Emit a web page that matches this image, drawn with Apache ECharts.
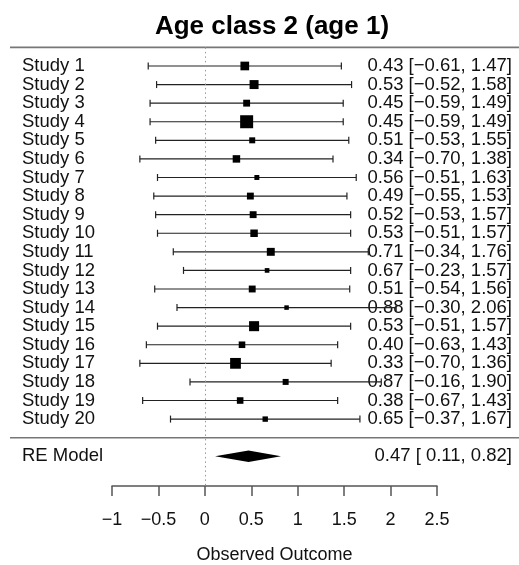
<!DOCTYPE html>
<html>
<head>
<meta charset="utf-8">
<title>Age class 2 (age 1)</title>
<script src="https://cdn.jsdelivr.net/npm/echarts@6/dist/echarts.min.js"></script>
</head>
<body style="margin:0;background:#fff">
<div id="main" style="width:519px;height:565px;"></div>
<script>
// studies, effect sizes, 95% CI, relative weights (%)
var studies = ['Study 1', 'Study 2', 'Study 3', 'Study 4', 'Study 5', 'Study 6', 'Study 7', 'Study 8', 'Study 9', 'Study 10',
    'Study 11', 'Study 12', 'Study 13', 'Study 14', 'Study 15', 'Study 16', 'Study 17', 'Study 18', 'Study 19', 'Study 20'];
var estimates = [0.43, 0.53, 0.45, 0.45, 0.51, 0.34, 0.56, 0.49, 0.52, 0.53, 0.71, 0.67, 0.51, 0.88, 0.53, 0.40, 0.33, 0.87, 0.38, 0.65];
var lower = [-0.61, -0.52, -0.59, -0.59, -0.53, -0.70, -0.51, -0.55, -0.53, -0.51, -0.34, -0.23, -0.54, -0.30, -0.51, -0.63, -0.70, -0.16, -0.67, -0.37];
var upper = [1.47, 1.58, 1.49, 1.49, 1.55, 1.38, 1.63, 1.53, 1.57, 1.57, 1.76, 1.57, 1.56, 2.06, 1.57, 1.43, 1.36, 1.90, 1.43, 1.67];
var weights = [5.9, 6.1, 4.7, 8.8, 4.1, 5.1, 3.4, 4.7, 4.7, 5.1, 5.4, 3.2, 4.7, 3.1, 6.8, 4.5, 7.3, 4.1, 4.5, 3.7];
// pooled random-effects estimate: [estimate, lower, upper]
var modelName = 'RE Model';
var modelValues = [0.47, 0.11, 0.82];
var xTicks = [-1, -0.5, 0, 0.5, 1, 1.5, 2, 2.5];

var FONT = '"Liberation Sans", Arial, Helvetica, sans-serif';
var chart = echarts.init(document.getElementById('main'));

var wMin = Math.min.apply(null, weights), wMax = Math.max.apply(null, weights);
function sideFor(w) {
    return 4.5 + (w - wMin) / (wMax - wMin) * 8.5;
}
function fmt(v) {
    var s = Math.abs(v).toFixed(2);
    return v < 0 ? '\u2212' + s : ' ' + s;
}
function annot(est, lo, hi) {
    return est.toFixed(2) + ' [' + fmt(lo) + ', ' + hi.toFixed(2) + ']';
}

var studyData = [];
for (var i = 0; i < studies.length; i++) {
    studyData.push([estimates[i], i + 1, lower[i], upper[i], weights[i]]);
}
var rowY = studies.length + 2; // row of the pooled estimate
var sepRows = [0, studies.length + 1];

function textEl(x, y, txt, align) {
    return {
        type: 'text', x: x, y: y,
        style: { text: txt, fill: '#111', font: '18.5px ' + FONT, align: align, verticalAlign: 'middle' }
    };
}

function renderStudy(params, api) {
    var i = params.dataIndex;
    var yy = api.coord([0, api.value(1)])[1];
    var xl = api.coord([api.value(2), 0])[0];
    var xh = api.coord([api.value(3), 0])[0];
    var xe = api.coord([api.value(0), 0])[0];
    var s = sideFor(api.value(4));
    var stroke = { stroke: '#222', lineWidth: 1.2 };
    return {
        type: 'group',
        children: [
            textEl(22, yy, studies[i], 'left'),
            textEl(512, yy, annot(estimates[i], lower[i], upper[i]), 'right'),
            { type: 'line', shape: { x1: xl, y1: yy, x2: xh, y2: yy }, style: stroke },
            { type: 'line', shape: { x1: xl, y1: yy - 3.5, x2: xl, y2: yy + 3.5 }, style: stroke },
            { type: 'line', shape: { x1: xh, y1: yy - 3.5, x2: xh, y2: yy + 3.5 }, style: stroke },
            { type: 'rect', shape: { x: xe - s / 2, y: yy - s / 2, width: s, height: s }, style: { fill: '#000' } }
        ]
    };
}

function renderModel(params, api) {
    var yy = api.coord([0, api.value(1)])[1];
    var xe = api.coord([api.value(0), 0])[0];
    var xl = api.coord([api.value(2), 0])[0];
    var xh = api.coord([api.value(3), 0])[0];
    var h = 5.8;
    return {
        type: 'group',
        children: [
            textEl(22, yy, modelName, 'left'),
            textEl(512, yy, annot(modelValues[0], modelValues[1], modelValues[2]), 'right'),
            {
                type: 'polygon',
                shape: { points: [[xl, yy], [xe, yy - h], [xh, yy], [xe, yy + h]] },
                style: { fill: '#000' }
            }
        ]
    };
}

function renderSep(params, api) {
    var yy = api.coord([0, api.value(0)])[1];
    return {
        type: 'line',
        shape: { x1: 10, y1: yy, x2: 519, y2: yy },
        style: { stroke: '#777', lineWidth: 1.6 }
    };
}

var option = {
    backgroundColor: '#fff',
    animation: false,
    title: {
        text: 'Age class 2 (age 1)',
        left: 267,
        textAlign: 'center',
        top: 9,
        textStyle: { fontFamily: FONT, fontSize: 26, fontWeight: 'bold', color: '#000' }
    },
    grid: { left: 112, right: 82, top: 47.4, bottom: 79, outerBoundsMode: 'none', containLabel: false },
    xAxis: {
        type: 'value',
        min: xTicks[0],
        max: xTicks[xTicks.length - 1],
        interval: 0.5,
        position: 'bottom',
        name: 'Observed Outcome',
        nameLocation: 'middle',
        nameGap: 60,
        nameTextStyle: { fontFamily: FONT, fontSize: 18, color: '#111' },
        axisLine: { onZero: false, lineStyle: { color: '#555', width: 1.5 } },
        axisTick: { inside: false, length: 10, lineStyle: { color: '#555', width: 1.5 } },
        axisLabel: {
            margin: 25,
            fontFamily: FONT, fontSize: 18, color: '#111',
            formatter: function (v) { return String(v).replace('-', '\u2212'); }
        },
        splitLine: { show: false }
    },
    yAxis: { type: 'value', min: 0, max: 23.6, inverse: true, show: false },
    series: [
        {
            type: 'custom', name: 'separators', renderItem: renderSep,
            data: sepRows.map(function (r) { return [r]; }),
            encode: { y: 0 }, silent: true,
            markLine: {
                silent: true, symbol: 'none', label: { show: false },
                lineStyle: { type: [1.5, 3], color: '#999', width: 1 },
                data: [{ xAxis: 0 }]
            }
        },
        { type: 'custom', name: 'studies', renderItem: renderStudy, data: studyData, encode: { x: 0, y: 1 } },
        {
            type: 'custom', name: 'model', renderItem: renderModel,
            data: [[modelValues[0], rowY, modelValues[1], modelValues[2]]], encode: { x: 0, y: 1 }
        }
    ]
};
chart.setOption(option);
</script>
</body>
</html>
